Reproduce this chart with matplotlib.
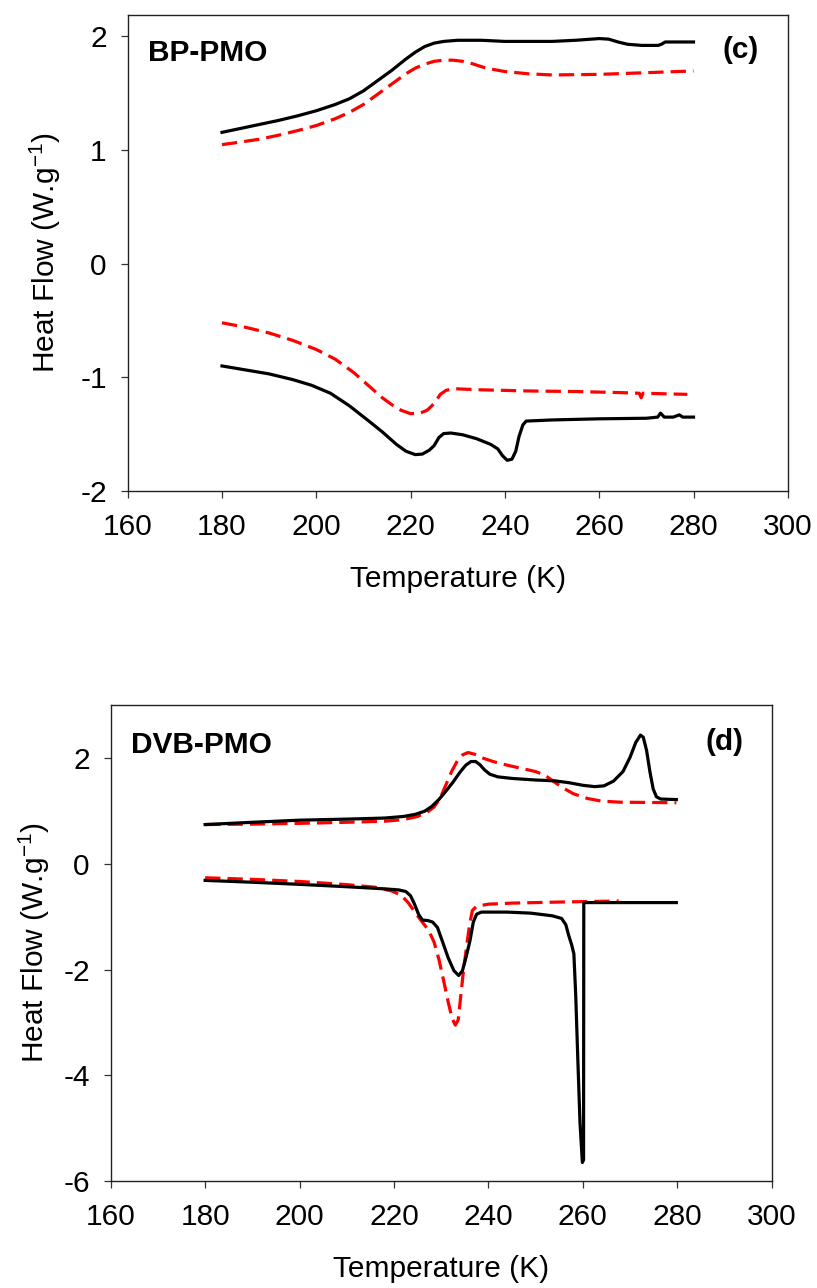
import matplotlib
matplotlib.use("Agg")
import matplotlib.pyplot as plt

plt.rcParams['font.family'] = ['Liberation Sans', 'DejaVu Sans']
plt.rcParams['mathtext.fontset'] = 'custom'
plt.rcParams['mathtext.rm'] = 'Liberation Sans'
plt.rcParams['mathtext.it'] = 'Liberation Sans'
plt.rcParams['axes.unicode_minus'] = False

# ---------------- Panel (c): BP-PMO ----------------
c_black_up_T = [180, 184, 188, 192, 196, 200, 204, 207, 210, 213, 216, 219, 221, 223, 225, 227, 230,
                235, 240, 250, 255, 260, 262, 264, 266, 269, 272.5, 273.2, 274, 280]
c_black_up_y = [1.155, 1.19, 1.225, 1.26, 1.30, 1.345, 1.40, 1.45, 1.52, 1.61, 1.70, 1.80, 1.86, 1.91,
                1.94, 1.955, 1.965, 1.965, 1.955, 1.955, 1.965, 1.98, 1.975, 1.95, 1.93, 1.92, 1.92,
                1.93, 1.95, 1.95]

c_red_up_T = [180, 184, 188, 192, 196, 200, 204, 207, 210, 213, 216, 219, 221, 223, 225, 227, 229,
              231, 233, 236, 240, 245, 250, 260, 270, 280]
c_red_up_y = [1.047, 1.07, 1.095, 1.13, 1.17, 1.215, 1.275, 1.33, 1.40, 1.49, 1.58, 1.67, 1.72, 1.755,
              1.78, 1.79, 1.79, 1.78, 1.76, 1.72, 1.69, 1.67, 1.66, 1.665, 1.68, 1.695]

c_red_lo_T = [180, 185, 190, 195, 200, 204, 208, 211, 214, 216, 218, 220, 222, 223.5, 225, 226.3,
              227.5, 229, 235, 245, 255, 265, 268.5, 268.9, 269.3, 278.7]
c_red_lo_y = [-0.52, -0.56, -0.61, -0.675, -0.755, -0.84, -0.96, -1.07, -1.18, -1.24, -1.29, -1.32,
              -1.315, -1.29, -1.23, -1.15, -1.115, -1.10, -1.11, -1.12, -1.125, -1.135, -1.14,
              -1.18, -1.14, -1.15]

c_black_lo_T = [180, 185, 190, 195, 199, 203, 207, 211, 214, 217, 219, 221, 222.5, 224, 225, 226,
                227, 228.5, 231, 234, 237, 238.5, 239.5, 240.5, 241.5, 242.3, 243, 243.8, 244.5,
                250, 260, 270, 272.4, 273.0, 273.8, 275.7, 277.0, 277.7, 280]
c_black_lo_y = [-0.90, -0.935, -0.97, -1.02, -1.07, -1.14, -1.25, -1.38, -1.48, -1.59, -1.65, -1.68,
                -1.675, -1.64, -1.60, -1.53, -1.495, -1.49, -1.505, -1.54, -1.59, -1.63, -1.69,
                -1.73, -1.72, -1.65, -1.52, -1.42, -1.385, -1.375, -1.365, -1.36, -1.35, -1.315,
                -1.35, -1.35, -1.33, -1.35, -1.35]

# ---------------- Panel (d): DVB-PMO ----------------
d_black_up_T = [180, 190, 200, 210, 218, 222, 224.5, 226.5, 228, 229.5, 231, 232.5, 234, 235.2, 236.3,
                237.3, 238.2, 239.2, 240.3, 242, 245, 250, 254, 257, 260, 262.5, 264.5, 266.5,
                268.5, 270, 271.2, 272.2, 272.8, 273.5, 274.2, 274.9, 275.6, 276.5, 279.8]
d_black_up_y = [0.747, 0.79, 0.83, 0.85, 0.87, 0.90, 0.94, 1.00, 1.09, 1.22, 1.38, 1.55, 1.74, 1.87,
                1.94, 1.94, 1.88, 1.78, 1.70, 1.65, 1.62, 1.59, 1.575, 1.54, 1.49, 1.465, 1.48,
                1.57, 1.75, 2.02, 2.30, 2.44, 2.40, 2.15, 1.75, 1.42, 1.27, 1.23, 1.22]

d_red_up_T = [180, 190, 200, 210, 218, 222, 225, 227, 228.5, 229.8, 231, 232.2, 233.4, 234.6, 235.7,
              237, 239, 241, 244, 247, 250, 252, 254, 256, 258, 261, 264, 268, 279.8]
d_red_up_y = [0.747, 0.755, 0.77, 0.79, 0.81, 0.84, 0.90, 0.98, 1.08, 1.25, 1.50, 1.75, 1.95, 2.07,
              2.11, 2.08, 2.00, 1.94, 1.87, 1.81, 1.75, 1.68, 1.55, 1.43, 1.33, 1.24, 1.19, 1.17,
              1.16]

d_black_lo_T = [180, 190, 200, 210, 218, 221, 222.5, 223.5, 224.3, 225.2, 226.0, 227.2, 228.2, 229.2,
                230.2, 231.5, 232.7, 233.7, 234.5, 235.3, 236.1, 236.8, 237.5, 238.5, 244, 249,
                253.5, 255.5, 256.4, 257.0, 257.6, 258.1, 258.5, 258.9, 259.4, 259.9, 260.15,
                260.2, 279.8]
d_black_lo_y = [-0.31, -0.345, -0.385, -0.43, -0.47, -0.49, -0.52, -0.60, -0.75, -0.95, -1.06, -1.07,
                -1.10, -1.20, -1.45, -1.78, -2.02, -2.11, -2.02, -1.75, -1.45, -1.10, -0.95, -0.91,
                -0.91, -0.93, -0.98, -1.03, -1.15, -1.35, -1.52, -1.70, -2.50, -3.60, -4.90, -5.65,
                -5.60, -0.73, -0.73]

d_red_lo_T = [180, 190, 200, 210, 216, 219.5, 221.5, 223, 224.5, 226, 227.3, 228.5, 229.5, 230.5,
              231.5, 232.3, 233, 233.6, 234.2, 234.8, 235.4, 236, 236.6, 237.5, 240, 245, 255,
              267.6]
d_red_lo_y = [-0.26, -0.29, -0.33, -0.39, -0.44, -0.51, -0.59, -0.73, -0.92, -1.10, -1.25, -1.48,
              -1.80, -2.20, -2.62, -2.92, -3.05, -2.95, -2.45, -1.95, -1.55, -1.15, -0.88, -0.80,
              -0.76, -0.74, -0.72, -0.70]

x_ticks = [160, 180, 200, 220, 240, 260, 280, 300]
c_yticks = [-2, -1, 0, 1, 2]
d_yticks = [-6, -4, -2, 0, 2]

W, H = 817, 1288
FS = 21.5
fig = plt.figure(figsize=(W / 100, H / 100), dpi=100)

def px_axes(l, t, r, b):
    return fig.add_axes([l / W, 1 - b / H, (r - l) / W, (b - t) / H])

ax1 = px_axes(127.7, 14.7, 787.8, 491)
ax2 = px_axes(110.7, 705, 771.7, 1181)

LW = 2.3
DASH = (4.8, 2.2)

def style(ax, yticks, ylim, ylabel_x, xlabel_y_px, ax_bottom_px, ax_h_px):
    ax.set_xlim(160, 300)
    ax.set_ylim(*ylim)
    ax.set_xticks(x_ticks)
    ax.set_yticks(yticks)
    ax.set_xticklabels([str(v) for v in x_ticks])
    ax.set_yticklabels([str(v) for v in yticks])
    ax.tick_params(direction='out', length=5, width=0.9, labelsize=FS, color='#333333')
    ax.tick_params(axis='y', pad=10)
    ax.tick_params(axis='x', pad=11)
    for s in ax.spines.values():
        s.set_linewidth(1.0)
        s.set_color('#222222')
    ax.set_xlabel('Temperature (K)', fontsize=FS)
    ax.set_ylabel('Heat Flow (W.g$^{-1}$)', fontsize=FS)
    ax.xaxis.set_label_coords(0.5, (ax_bottom_px - xlabel_y_px) / ax_h_px)
    ax.xaxis.label.set_va('center')
    ax.yaxis.set_label_coords(ylabel_x, 0.5)
    ax.yaxis.label.set_va('center')

# Panel (c)
ax1.plot(c_red_up_T, c_red_up_y, color='#ff0000', lw=LW, dashes=DASH)
ax1.plot(c_red_lo_T, c_red_lo_y, color='#ff0000', lw=LW, dashes=DASH)
ax1.plot(c_black_up_T, c_black_up_y, color='black', lw=LW, solid_joinstyle='round')
ax1.plot(c_black_lo_T, c_black_lo_y, color='black', lw=LW, solid_joinstyle='round')
style(ax1, c_yticks, (-2, 2.19), -0.125, 579, 491, 476.3)
ax1.text(164.3, 1.857, 'BP-PMO', fontsize=FS, fontweight='bold', ha='left', va='center')
ax1.text(289.9, 1.88, '(c)', fontsize=FS, fontweight='bold', ha='center', va='center')

# Panel (d)
ax2.plot(d_red_up_T, d_red_up_y, color='#ff0000', lw=LW, dashes=DASH)
ax2.plot(d_red_lo_T, d_red_lo_y, color='#ff0000', lw=LW, dashes=DASH)
ax2.plot(d_black_up_T, d_black_up_y, color='black', lw=LW, solid_joinstyle='round')
ax2.plot(d_black_lo_T, d_black_lo_y, color='black', lw=LW, solid_joinstyle='round')
style(ax2, d_yticks, (-6, 3.01), -0.115, 1269, 1181, 476)
ax2.text(164.4, 2.25, 'DVB-PMO', fontsize=FS, fontweight='bold', ha='left', va='center')
ax2.text(290.1, 2.31, '(d)', fontsize=FS, fontweight='bold', ha='center', va='center')

fig.savefig('out.png', dpi=100)
